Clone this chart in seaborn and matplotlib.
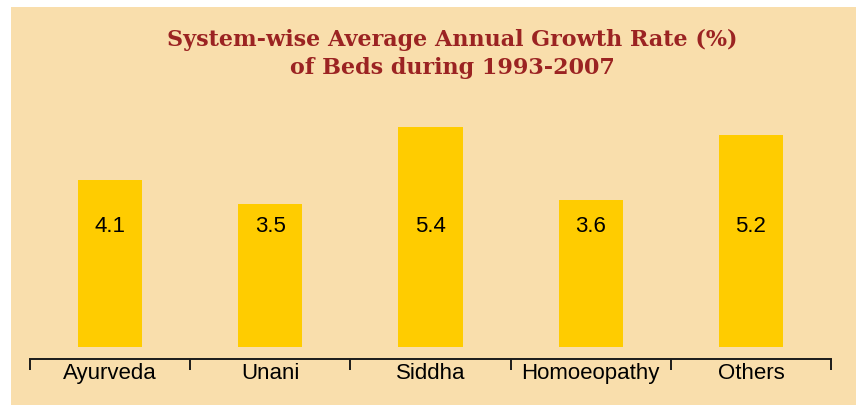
import matplotlib
matplotlib.use("Agg")
import matplotlib.pyplot as plt
import seaborn as sns
import pandas as pd
from matplotlib.patches import Rectangle

# Datos
systems = ["Ayurveda", "Unani", "Siddha", "Homoeopathy", "Others"]
growth = [4.1, 3.5, 5.4, 3.6, 5.2]

bg = "#F9DEAC"
bar_color = "#FFCC00"
title_color = "#9B2322"

sns.set_style("white")
plt.rcParams['font.family'] = ['Liberation Sans', 'DejaVu Sans']

df = pd.DataFrame({"system": systems, "growth": growth})

fig = plt.figure(figsize=(8.56, 4.05), dpi=100, facecolor="white")
# panel de fondo
fig.patches.append(Rectangle((11 / 856, 0), 1, (405 - 7) / 405,
                             transform=fig.transFigure, facecolor=bg,
                             edgecolor="none", zorder=-10))

ax = fig.add_axes([30 / 856, (405 - 359) / 405, 801 / 856, 249 / 405])
ax.set_zorder(1)
ax.set_facecolor("none")
sns.barplot(data=df, x="system", y="growth", color=bar_color,
            saturation=1, width=0.4, linewidth=0, edgecolor="none", ax=ax)

ax.set_xlim(-0.5, len(systems) - 0.5)
ax.set_ylim(-0.294, 5.81)

# etiquetas de valor dentro de las barras
for i, v in enumerate(growth):
    ax.text(i, 2.95, f"{v}", ha="center", va="center", fontsize=16, color="black")

for s in ["top", "right", "left"]:
    ax.spines[s].set_visible(False)
ax.spines["bottom"].set_color("#1a1a1a")
ax.spines["bottom"].set_linewidth(1.4)

ax.set_yticks([])
ax.set_xticks(range(len(systems)))
ax.set_xticklabels(systems, fontsize=16, color="black")
ax.set_xticks([i - 0.5 for i in range(len(systems) + 1)], minor=True)
ax.tick_params(axis="x", which="major", bottom=False, length=0, pad=3)
ax.tick_params(axis="x", which="minor", bottom=True, length=8, width=1.4,
               color="#1a1a1a", direction="out")
ax.set_xlabel("")
ax.set_ylabel("")

fig.text(452 / 856, (405 - 54) / 405,
         "System-wise Average Annual Growth Rate (%)\nof Beds during 1993-2007",
         ha="center", va="center", fontsize=16, fontweight="bold",
         color=title_color, family=["DejaVu Serif"], linespacing=1.35)

fig.savefig("out.png", dpi=100, facecolor=fig.get_facecolor())
